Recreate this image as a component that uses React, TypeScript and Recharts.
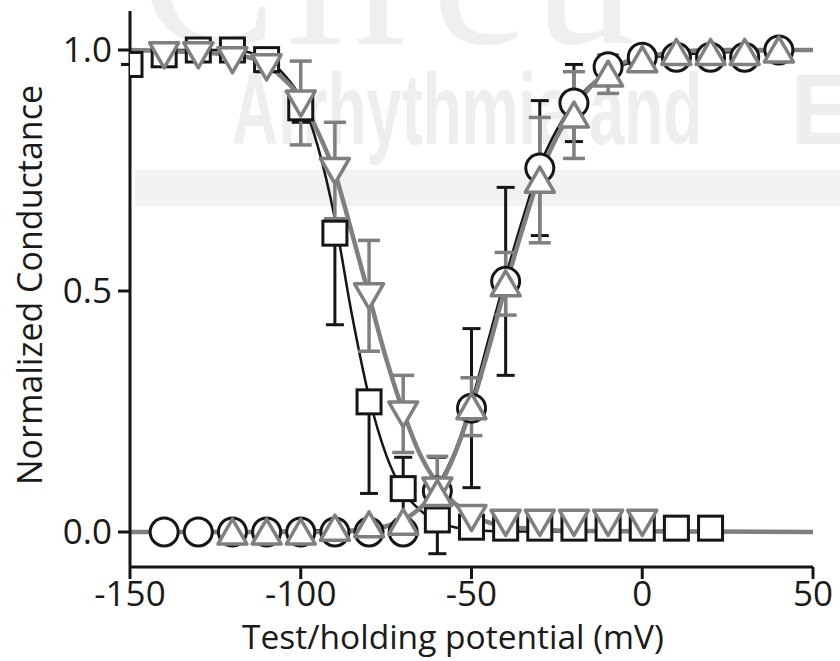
import { ComposedChart, Line, Scatter, ErrorBar, XAxis, YAxis, Label } from 'recharts';

document.body.style.margin = '0';

const BLACK = '#151515';
const GRAY = '#7f7f7f';
const FONT = '"Open Sans", "Noto Sans", sans-serif';

// WT-like inactivation (black squares)
const sqV = [-150, -140, -130, -120, -110, -100, -90, -80, -70, -60, -50, -40, -30, -20, -10, 0, 10, 20];
const sqG = [0.97, 0.99, 1.0, 1.0, 0.98, 0.88, 0.62, 0.27, 0.09, 0.025, 0.01, 0.008, 0.008, 0.008, 0.008, 0.008, 0.008, 0.008];
const sqErr: [number, number][] = [[0, 0], [0, 0], [0, 0], [0, 0], [0, 0], [0.03, 0.03], [0.19, 0], [0.19, 0], [0.065, 0.065], [0.07, 0], [0, 0], [0, 0], [0, 0], [0, 0], [0, 0], [0, 0], [0, 0], [0, 0]];

// mutant inactivation (gray down triangles)
const dtV = [-140, -130, -120, -110, -100, -90, -80, -70, -60, -50, -40, -30, -20, -10, 0];
const dtG = [0.99, 0.99, 0.98, 0.965, 0.89, 0.75, 0.49, 0.245, 0.087, 0.03, 0.02, 0.02, 0.02, 0.02, 0.02];
const dtErr = [0, 0, 0, 0.01, 0.087, 0.1, 0.115, 0.08, 0.07, 0.015, 0, 0, 0, 0, 0];

// WT-like activation (black circles)
const ciV = [-140, -130, -120, -110, -100, -90, -80, -70, -60, -50, -40, -30, -20, -10, 0, 10, 20, 30, 40];
const ciG = [0, 0, 0, 0, 0, 0, 0, 0, 0.085, 0.257, 0.52, 0.755, 0.89, 0.965, 0.985, 0.985, 0.985, 0.985, 1.0];
const ciErr = [0, 0, 0, 0, 0, 0, 0, 0, 0.07, 0.165, 0.195, 0.14, 0.08, 0.02, 0, 0, 0, 0, 0];

// mutant activation (gray up triangles)
const utV = [-120, -110, -100, -90, -80, -70, -60, -50, -40, -30, -20, -10, 0, 10, 20, 30, 40];
const utG = [0, 0, 0, 0.008, 0.015, 0.02, 0.08, 0.26, 0.515, 0.73, 0.865, 0.95, 0.98, 0.995, 0.995, 0.995, 1.0];
const utErr = [0, 0, 0, 0, 0, 0, 0.03, 0.06, 0.065, 0.13, 0.09, 0.04, 0, 0, 0, 0, 0];

// fitted curves
const fitInactBlackV = [-150, -120, -110, -105, -100, -95, -90, -85, -80, -75, -70, -65, -60, -55, -50, -40, 20];
const fitInactBlackG = [1.0, 1.0, 0.98, 0.95, 0.9, 0.8, 0.65, 0.45, 0.28, 0.16, 0.085, 0.045, 0.022, 0.01, 0.005, 0.001, 0];
const fitInactGrayV = [-150, -120, -110, -105, -100, -95, -90, -85, -80, -75, -70, -65, -60, -55, -50, -45, -40, -30, -20, 50];
const fitInactGrayG = [1.0, 0.99, 0.97, 0.94, 0.9, 0.83, 0.745, 0.62, 0.49, 0.36, 0.25, 0.16, 0.1, 0.06, 0.035, 0.02, 0.012, 0.005, 0.002, 0];
const fitActGrayV = [-150, -90, -80, -75, -70, -65, -60, -55, -50, -45, -40, -35, -30, -25, -20, -15, -10, -5, 0, 10, 20, 50];
const fitActGrayG = [0, 0, 0.005, 0.012, 0.025, 0.05, 0.09, 0.16, 0.26, 0.38, 0.51, 0.63, 0.74, 0.82, 0.88, 0.925, 0.955, 0.975, 0.985, 0.995, 1.0, 1.0];
const fitActBlackV = [-150, -80, -70, -65, -60, -55, -50, -45, -40, -35, -30, -25, -20, -10, 0, 10, 50];
const fitActBlackG = [0, 0.005, 0.025, 0.05, 0.095, 0.165, 0.27, 0.4, 0.53, 0.65, 0.76, 0.835, 0.89, 0.955, 0.98, 0.99, 1.0];

const xTicks = [-150, -100, -50, 0, 50];
const yTicks = [0, 0.5, 1.0];

const zip = (xs: number[], ys: number[], errs?: any[]) =>
  xs.map((x, i) => ({ x, y: ys[i], err: errs ? errs[i] : 0 }));

const squares = zip(sqV, sqG, sqErr);
const downTris = zip(dtV, dtG, dtErr);
const circles = zip(ciV, ciG, ciErr);
const upTris = zip(utV, utG, utErr);

const SquareShape = (p: any) => (
  <rect x={p.cx - 12} y={p.cy - 12} width={24} height={24} fill="#fff" stroke={BLACK} strokeWidth={3} />
);
const CircleShape = (p: any) => (
  <circle cx={p.cx} cy={p.cy} r={14} fill="#fff" stroke={BLACK} strokeWidth={3} />
);
const UpTriShape = (p: any) => (
  <polygon
    points={`${p.cx},${p.cy - 13} ${p.cx + 14.5},${p.cy + 12} ${p.cx - 14.5},${p.cy + 12}`}
    fill="#fff" stroke={GRAY} strokeWidth={3.5} strokeLinejoin="round"
  />
);
const DownTriShape = (p: any) => (
  <polygon
    points={`${p.cx - 14.5},${p.cy - 12} ${p.cx + 14.5},${p.cy - 12} ${p.cx},${p.cy + 13}`}
    fill="#fff" stroke={GRAY} strokeWidth={3.5} strokeLinejoin="round"
  />
);

// faint journal watermark behind the plot
function Watermark() {
  return (
    <svg width={840} height={661} style={{ position: 'absolute', left: 0, top: 0 }}>
      <text x={140} y={43} fontFamily="Liberation Serif, serif" fontSize={205} fill="#efefef" letterSpacing={10}>Circu</text>
      <text x={232} y={144} fontFamily="Liberation Sans, sans-serif" fontWeight="bold" fontSize={100} fill="#eeeeee"
        textLength={470} lengthAdjust="spacingAndGlyphs">Arrhythmia and</text>
      <text x={790} y={144} fontFamily="Liberation Sans, sans-serif" fontWeight="bold" fontSize={100} fill="#eeeeee">E</text>
      <rect x={135} y={170} width={705} height={36} fill="#f1f2f2" />
    </svg>
  );
}

export default function App() {
  return (
    <div style={{ position: 'relative', width: 840, height: 661, background: '#fff' }}>
      <Watermark />
      <div style={{ position: 'absolute', left: 0, top: 0 }}>
        <ComposedChart width={840} height={661} margin={{ top: 11, right: 27, bottom: 0, left: 0 }}>
          <XAxis
            type="number"
            dataKey="x"
            domain={[-150, 50]}
            ticks={xTicks}
            allowDataOverflow
            height={94}
            tickSize={12}
            tickMargin={2}
            axisLine={{ stroke: BLACK, strokeWidth: 3 }}
            tickLine={{ stroke: BLACK, strokeWidth: 3 }}
            tick={{ fill: '#1a1a1a', fontSize: 35, fontFamily: FONT }}
          >
            <Label
              content={() => (
                <text x={453} y={649} textAnchor="middle" fill="#1a1a1a" fontSize={33.5} fontFamily={FONT}>
                  Test/holding potential (mV)
                </text>
              )}
            />
          </XAxis>
          <YAxis
            type="number"
            dataKey="y"
            domain={[-0.0726, 1.0809]}
            ticks={yTicks}
            allowDataOverflow
            width={130}
            tickSize={12}
            tickMargin={6}
            tickFormatter={(v: number) => v.toFixed(1)}
            axisLine={{ stroke: BLACK, strokeWidth: 3 }}
            tickLine={{ stroke: BLACK, strokeWidth: 3 }}
            tick={{ fill: '#1a1a1a', fontSize: 35, fontFamily: FONT }}
          >
            <Label
              content={() => (
                <text transform="translate(42,285) rotate(-90)" textAnchor="middle" fill="#1a1a1a" fontSize={34} fontFamily={FONT}>
                  Normalized Conductance
                </text>
              )}
            />
          </YAxis>

          <Line data={zip(fitActBlackV, fitActBlackG)} dataKey="y" type="monotone" stroke={BLACK} strokeWidth={2.5} dot={false} isAnimationActive={false} />
          <Line data={zip(fitInactBlackV, fitInactBlackG)} dataKey="y" type="monotone" stroke={BLACK} strokeWidth={2.5} dot={false} isAnimationActive={false} />
          <Line data={zip(fitInactGrayV, fitInactGrayG)} dataKey="y" type="monotone" stroke={GRAY} strokeWidth={4.5} dot={false} isAnimationActive={false} />
          <Line data={zip(fitActGrayV, fitActGrayG)} dataKey="y" type="monotone" stroke={GRAY} strokeWidth={4.5} dot={false} isAnimationActive={false} />

          <Scatter data={squares} shape={SquareShape} isAnimationActive={false}>
            <ErrorBar dataKey="err" direction="y" width={9} stroke={BLACK} strokeWidth={3} />
          </Scatter>
          <Scatter data={circles} shape={CircleShape} isAnimationActive={false}>
            <ErrorBar dataKey="err" direction="y" width={9} stroke={BLACK} strokeWidth={3} />
          </Scatter>
          <Scatter data={downTris} shape={DownTriShape} isAnimationActive={false}>
            <ErrorBar dataKey="err" direction="y" width={11} stroke={GRAY} strokeWidth={3.5} />
          </Scatter>
          <Scatter data={upTris} shape={UpTriShape} isAnimationActive={false}>
            <ErrorBar dataKey="err" direction="y" width={11} stroke={GRAY} strokeWidth={3.5} />
          </Scatter>
        </ComposedChart>
      </div>
    </div>
  );
}
